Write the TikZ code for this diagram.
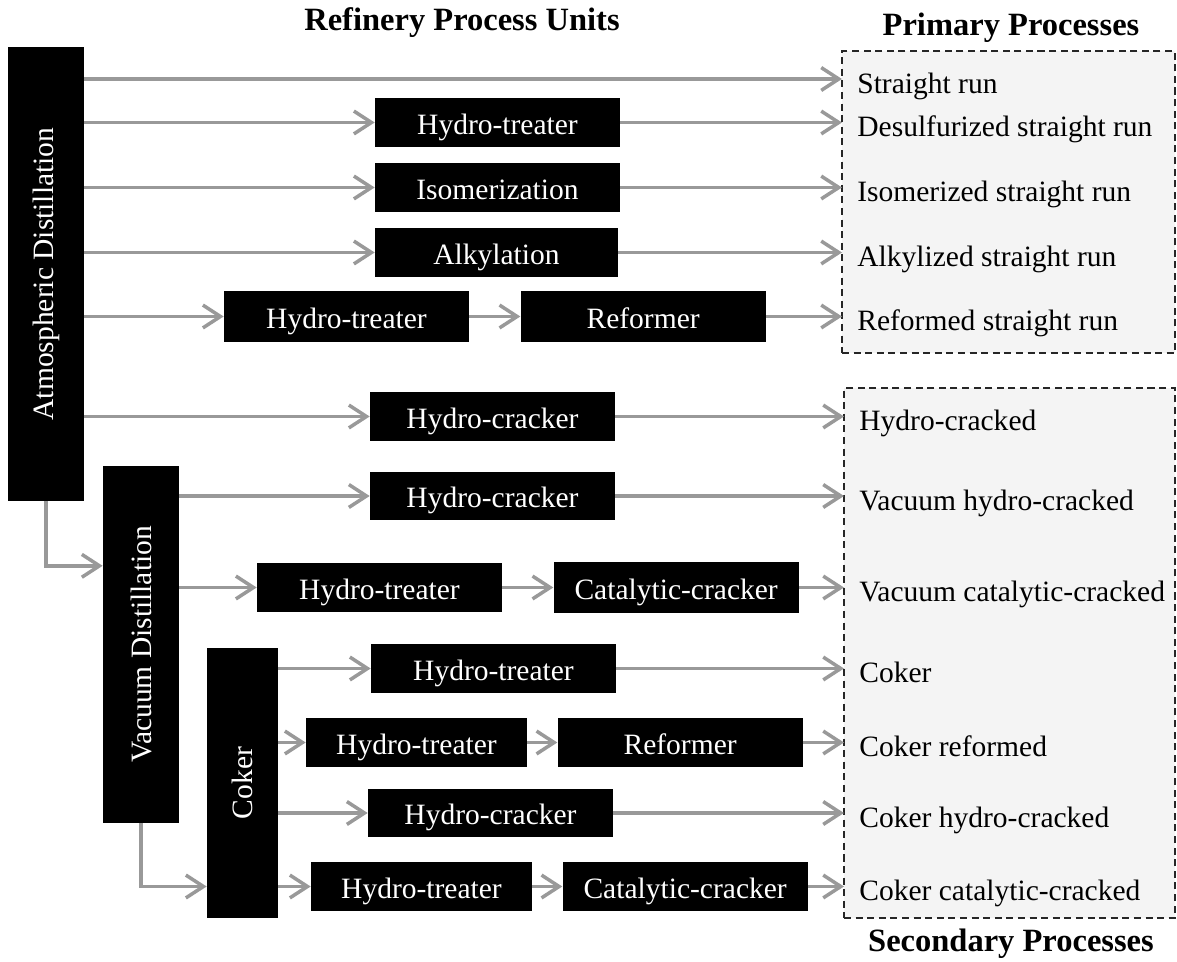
\documentclass[tikz,border=0pt]{standalone}
\usepackage{fontspec}
\setmainfont{Liberation Serif}
\usepackage{tikz}
\usetikzlibrary{
	arrows.meta,
	calc,
	positioning
}
\newcommand{\procfont}{\fontsize{16.8}{20}\selectfont}
\newcommand{\headfont}{\bfseries\fontsize{18.5}{22}\selectfont}
\tikzset{
	every edge/.append style={
		draw=gray!80,
		line width=2pt,
		-{Straight Barb[length=10pt,width=13pt]}
	},
	elbow/.style={
		to path={|- (\tikztotarget)}
	},
	blackbox/.style={
		fill=black,
		text=white,
		inner sep=0pt,
		font=\procfont
	},
	unit/.style={
		blackbox,
		text height=14pt,
		text depth=0.4pt,
		minimum width=4.9cm,
		minimum height=0.98cm
	},
	column/.style={
		blackbox,
		rotate=90,
		minimum height=1.52cm
	},
	product/.style={
		anchor=west,
		inner xsep=0.3cm,
		inner ysep=0pt,
		text height=16.6pt,
		text depth=0.4pt,
		font=\procfont
	},
	panel/.style={
		draw=black!85,
		line width=0.9pt,
		dash pattern=on 4pt off 2.6pt,
		fill=gray!9
	},
	heading/.style={
		font=\headfont
	}
}

\begin{document}
\begin{tikzpicture}[x=0.02cm,y=-0.02cm]
	\useasboundingbox (0,0) rectangle (1177,962);

	\node [panel,minimum width=6.66cm,minimum height=6.04cm] (prim) at (1008.5,202) {};
	\node [panel,minimum width=6.62cm,minimum height=10.6cm] (sec) at (1009.5,653) {};

	\draw
		node [heading] (units) at (462,23)   {Refinery Process Units}
		node [heading] (ptop)  at (1011,28)  {Primary Processes}
		node [heading] (sbot)  at (1011,944) {Secondary Processes}

		node [column,minimum width=9.08cm] (atm)   at (46,274)    {Atmospheric Distillation}
		node [column,minimum width=7.14cm] (vac)   at (141,644.5) {Vacuum Distillation}
		node [column,minimum width=5.4cm,minimum height=1.42cm] (coker) at (242.5,783) {Coker}

		node [unit] (ht1) at (497.5,122.5) {Hydro-treater}
		node [unit] (iso) at (497.5,187.5) {Isomerization}
		node [unit,minimum width=4.86cm] (alk) at (496.5,252.5) {Alkylation}
		node [unit,minimum height=1.02cm] (ht2) at (346.5,316.5) {Hydro-treater}
		node [unit,minimum height=1.02cm,right=1.02cm of ht2] (ref1) {Reformer}
		node [unit] (hc1) at (492.5,416.5) {Hydro-cracker}
		node [unit] (hc2) at (492.5,496)   {Hydro-cracker}
		node [unit] (ht3) at (379.5,587.5) {Hydro-treater}
		node [unit,minimum height=1.02cm,right=1.02cm of ht3] (cc1) {Catalytic-cracker}
		node [unit] (ht4) at (493.5,668.5) {Hydro-treater}
		node [unit,minimum width=4.42cm] (ht5) at (416.5,742.5) {Hydro-treater}
		node [unit,right=0.6cm of ht5] (ref2) {Reformer}
		node [unit] (hc3) at (490.5,813)   {Hydro-cracker}
		node [unit,minimum width=4.42cm] (ht6) at (421.5,886.5) {Hydro-treater}
		node [unit,right=0.6cm of ht6] (cc2) {Catalytic-cracker}

		node [product] (sr)  at (842,79)    {Straight run}
		node [product] (dsr) at (842,122.5) {Desulfurized straight run}
		node [product] (isr) at (842,187.5) {Isomerized straight run}
		node [product] (asr) at (842,252.5) {Alkylized straight run}
		node [product] (rsr) at (842,316.5) {Reformed straight run}
		node [product] (hcd) at (844,416.5) {Hydro-cracked}
		node [product] (vhc) at (844,496)   {Vacuum hydro-cracked}
		node [product] (vcc) at (844,587.5) {Vacuum catalytic-cracked}
		node [product] (ck)  at (844,668.5) {Coker}
		node [product] (ckr) at (844,742.5) {Coker reformed}
		node [product] (ckh) at (844,813)   {Coker hydro-cracked}
		node [product] (ckc) at (844,886.5) {Coker catalytic-cracked}

		(atm.south |- sr)  edge (sr)
		(atm.south |- ht1) edge (ht1)
		(ht1)              edge (dsr)
		(atm.south |- iso) edge (iso)
		(iso)              edge (isr)
		(atm.south |- alk) edge (alk)
		(alk)              edge (asr)
		(atm.south |- ht2) edge (ht2)
		(ht2)              edge (ref1)
		(ref1)             edge (rsr)
		(atm.south |- hc1) edge (hc1)
		(hc1)              edge (hcd)

		(atm.west) edge [elbow] ($(vac.north east)!0.28!(vac.north west)$)
		(vac.south |- hc2) edge (hc2)
		(hc2)              edge (vhc)
		(vac.south |- ht3) edge (ht3)
		(ht3)              edge (cc1)
		(cc1)              edge (vcc)

		(vac.west) edge [elbow] (coker.north |- ht6)
		(coker.south |- ht4) edge (ht4)
		(ht4)                edge (ck)
		(coker.south |- ht5) edge (ht5)
		(ht5)                edge (ref2)
		(ref2)               edge (ckr)
		(coker.south |- hc3) edge (hc3)
		(hc3)                edge (ckh)
		(coker.south |- ht6) edge (ht6)
		(ht6)                edge (cc2)
		(cc2)                edge (ckc)
	;
\end{tikzpicture}
\end{document}
